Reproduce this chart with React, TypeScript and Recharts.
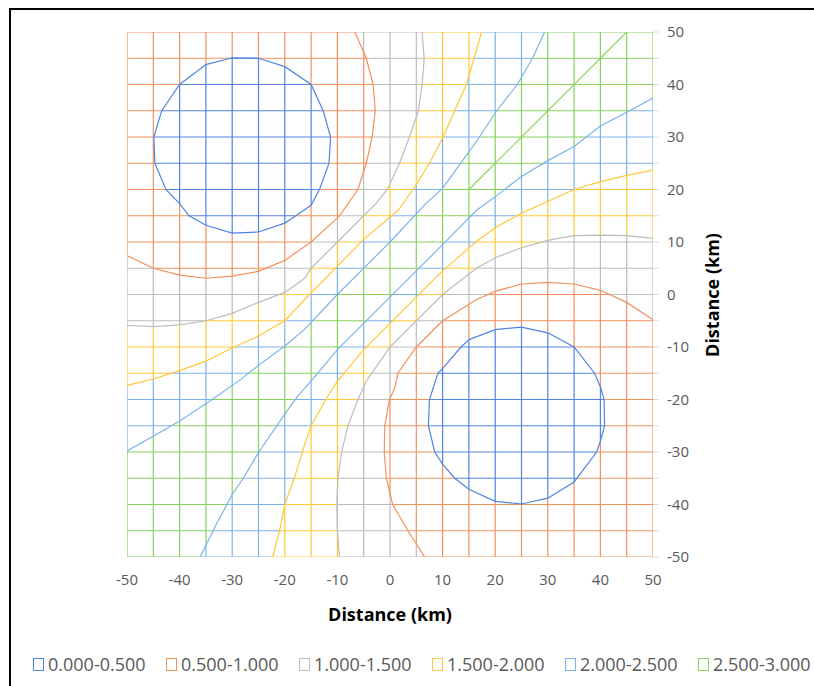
import React from 'react';
import { ComposedChart, Line, XAxis, YAxis } from 'recharts';

type Pt = [number, number];

const BAND_LABELS = ['0.000-0.500', '0.500-1.000', '1.000-1.500', '1.500-2.000', '2.000-2.500', '2.500-3.000'];
const BAND_COLORS = ['#5084E4', '#F2925C', '#BDBDBD', '#FFC73A', '#7DB3E9', '#88D25C'];

const GRID_STEPS = [-50, -45, -40, -35, -30, -25, -20, -15, -10, -5, 0, 5, 10, 15, 20, 25, 30, 35, 40, 45, 50];
const X_TICKS = [-50, -40, -30, -20, -10, 0, 10, 20, 30, 40, 50];
const Y_TICKS = GRID_STEPS;

// contour lines, [x km, y km]
const low05A: Pt[] = [[-30, 45.1], [-25, 45.0], [-20, 43.4], [-15, 40.0], [-12.7, 35], [-11.3, 30], [-11.6, 25], [-13.4, 20], [-15, 17], [-17.9, 15], [-20, 13.6], [-25, 11.9], [-30, 11.7], [-35, 13.2], [-38.2, 15], [-40, 17.3], [-42.6, 20], [-44.7, 25], [-44.9, 30], [-43.4, 35], [-40, 40], [-35, 43.8], [-30, 45.1]];
const low05B: Pt[] = [[15, -8.6], [20, -6.7], [25, -6.2], [30, -7.3], [35, -10], [38.9, -15], [40, -17.6], [40.7, -20], [40.8, -25], [40, -27.9], [39.3, -30], [35, -35.7], [30, -38.8], [25, -39.9], [20, -39.4], [15, -37.1], [12.3, -35], [10, -32.3], [8.5, -30], [7.3, -25], [7.5, -20], [9.1, -15], [10, -14.1], [13.5, -10], [15, -8.6]];

// upper-left family: from top edge to left edge
const lvl10A: Pt[] = [[-6.7, 50], [-4.5, 45], [-3.2, 40], [-2.8, 35], [-3.4, 30], [-4.5, 25], [-6.1, 20], [-9.6, 15], [-10, 14.6], [-15, 10], [-20, 6.5], [-25, 4.4], [-30, 3.5], [-35, 3.1], [-40, 3.7], [-45, 5.0], [-50, 7.4]];
const lvl15A: Pt[] = [[6.1, 50], [6.5, 45], [6.1, 40], [5.4, 35], [3.7, 30], [1.8, 25], [-0.5, 20], [-2.6, 17.4], [-5, 15], [-10, 10], [-15, 5], [-16.2, 3.1], [-20, 0.4], [-25, -1.5], [-30, -3.6], [-35, -5], [-40, -5.8], [-45, -6.1], [-50, -5.9]];
const lvl20A: Pt[] = [[17.4, 50], [16, 45], [14.5, 40], [12.3, 35], [10.1, 30], [7.5, 25], [4.4, 20], [1.5, 16], [-5, 10.5], [-10, 5.4], [-15.3, 0], [-20, -5], [-25, -7.9], [-30, -10.2], [-35, -12.7], [-40, -14.5], [-45, -16.1], [-50, -17.3]];
const lvl25A: Pt[] = [[29.4, 50], [27.1, 45], [24.2, 40], [20.3, 35], [16.4, 29.1], [10, 20.2], [6.9, 17.4], [0, 10], [-10, 0], [-16.2, -6.6], [-20, -9.8], [-25, -13.5], [-28.8, -16.5], [-35, -20.8], [-40, -24.1], [-45, -27], [-50, -29.8]];

// lower-right family: from right edge to bottom edge
const lvl25B: Pt[] = [[50, 37.4], [45, 34.7], [40, 32.1], [35, 28.2], [30, 25.5], [25, 22.5], [20, 18.6], [16.4, 16], [10, 9.5], [0, -0.5], [-10, -10.5], [-15, -16.5], [-17.5, -19.3], [-20, -22.8], [-25, -30.1], [-27.9, -35], [-30, -38.1], [-31, -40], [-33, -43.7], [-36.1, -50]];
const lvl20B: Pt[] = [[50, 23.7], [45, 22.7], [40, 21.5], [35, 20], [30, 17.7], [25, 15.5], [20, 12.7], [16.4, 10.1], [10, 4.5], [0, -5.5], [-5, -10.5], [-10, -16.5], [-12.2, -20], [-15, -25], [-16.2, -28.5], [-18.2, -35], [-20, -40], [-21, -45], [-22.3, -50]];
const lvl15B: Pt[] = [[50, 10.7], [45, 11.2], [40, 11.3], [35, 11.2], [30, 10.3], [25, 8.9], [20, 7.0], [16.4, 5.0], [10, 0], [5, -5], [0, -10], [-4.5, -16.5], [-6.1, -20], [-8, -25], [-9.2, -30], [-9.9, -35], [-10.1, -40], [-10, -45], [-9.6, -50]];
const lvl10B: Pt[] = [[50, -4.8], [45, -1.5], [40, 0.8], [35, 2.0], [30, 2.3], [25, 2.0], [20, 0.6], [16.4, -1.0], [10, -5], [5, -10], [1.5, -15], [0.9, -17.8], [-0.1, -20], [-1, -25], [-1.1, -30], [-0.7, -35], [0.5, -40], [3.4, -45], [6.6, -50]];

// the 3.000 ridge in the upper right
const ridge30: Pt[] = [[15, 20], [45, 50]];

const contours: { pts: Pt[]; band: number }[] = [
  { pts: low05A, band: 0 }, { pts: low05B, band: 0 },
  { pts: lvl10A, band: 1 }, { pts: lvl10B, band: 1 },
  { pts: lvl15A, band: 2 }, { pts: lvl15B, band: 2 },
  { pts: lvl20A, band: 3 }, { pts: lvl20B, band: 3 },
  { pts: lvl25A, band: 4 }, { pts: lvl25B, band: 4 },
  { pts: ridge30, band: 5 },
];

const insidePoly = (px: number, py: number, poly: Pt[]) => {
  let inside = false;
  for (let i = 0, j = poly.length - 1; i < poly.length; j = i++) {
    const [xi, yi] = poly[i];
    const [xj, yj] = poly[j];
    if ((yi > py) !== (yj > py) && px < ((xj - xi) * (py - yi)) / (yj - yi) + xi) inside = !inside;
  }
  return inside;
};

const cornerTL = [lvl10A, lvl15A, lvl20A, lvl25A].map((c) => [...c, [-50, 50]] as Pt[]);
const cornerBR = [lvl10B, lvl15B, lvl20B, lvl25B].map((c) => [...c, [50, -50]] as Pt[]);

// which band a point of the plot falls in
const bandAt = (x: number, y: number) => {
  let b = 5;
  cornerTL.forEach((p) => { if (insidePoly(x, y, p)) b--; });
  cornerBR.forEach((p) => { if (insidePoly(x, y, p)) b--; });
  [low05A, low05B].forEach((p) => { if (insidePoly(x, y, p)) b--; });
  return b;
};

type Row = { x: number; y: number | null };

// split every grid line where a contour crosses it, colour each piece by its band
const buildGrid = () => {
  const out: Row[][] = BAND_COLORS.map(() => []);
  const clamp = (v: number) => Math.max(-49.98, Math.min(49.98, v));
  [true, false].forEach((vertical) => {
    GRID_STEPS.forEach((c) => {
      const cuts = [-50, 50];
      contours.forEach(({ pts }) => {
        for (let i = 0; i < pts.length - 1; i++) {
          const a1 = vertical ? pts[i][0] : pts[i][1];
          const a2 = vertical ? pts[i + 1][0] : pts[i + 1][1];
          const b1 = vertical ? pts[i][1] : pts[i][0];
          const b2 = vertical ? pts[i + 1][1] : pts[i + 1][0];
          if (a1 === a2) continue;
          if ((a1 - c) * (a2 - c) <= 0) cuts.push(b1 + ((c - a1) / (a2 - a1)) * (b2 - b1));
        }
      });
      cuts.sort((a, b) => a - b);
      let start = cuts[0];
      let cur = -1;
      const flush = (end: number) => {
        if (cur < 0) return;
        const rows = out[cur];
        if (vertical) rows.push({ x: c, y: start }, { x: c, y: end }, { x: c, y: null });
        else rows.push({ x: start, y: c }, { x: end, y: c }, { x: end, y: null });
      };
      for (let i = 0; i < cuts.length - 1; i++) {
        const lo = cuts[i];
        const hi = cuts[i + 1];
        if (hi - lo < 1e-6) continue;
        const mid = (lo + hi) / 2;
        const b = vertical ? bandAt(clamp(c), mid) : bandAt(mid, clamp(c));
        if (b !== cur) {
          flush(lo);
          start = lo;
          cur = b;
        }
      }
      flush(50);
    });
  });
  return out;
};

const gridRows = buildGrid();

const axisFont = { fontFamily: 'Open Sans', fontSize: 15, fill: '#595959' };

export default function App() {
  return (
    <div style={{ position: 'absolute', left: 0, top: 0, width: 814, height: 686, background: '#fff', fontFamily: 'Open Sans', overflow: 'hidden' }}>
      <div style={{ position: 'absolute', left: 9, top: 8, width: 820, height: 700, borderLeft: '2px solid #000', borderTop: '2px solid #000' }} />
      <ComposedChart width={814} height={600} margin={{ top: 32, left: 127, right: 111, bottom: 13 }}>
        <XAxis
          type="number"
          dataKey="x"
          domain={[-50, 50]}
          ticks={X_TICKS}
          interval={0}
          allowDataOverflow
          axisLine={false}
          tickLine={false}
          tickSize={6}
          tickMargin={11}
          height={30}
          tick={axisFont}
        />
        <YAxis
          type="number"
          orientation="right"
          domain={[-50, 50]}
          ticks={Y_TICKS}
          interval={0}
          allowDataOverflow
          axisLine={false}
          tickLine={{ stroke: '#D9D9D9' }}
          tickSize={6}
          tickMargin={8}
          width={50}
          tick={axisFont}
          tickFormatter={(v: number) => (v % 10 === 0 ? String(v) : '')}
        />
        {gridRows.map((rows, i) => (
          <Line
            key={`grid-${i}`}
            data={rows}
            dataKey="y"
            stroke={BAND_COLORS[i]}
            strokeWidth={1.2}
            dot={false}
            activeDot={false}
            isAnimationActive={false}
          />
        ))}
        {contours.map((c, i) => (
          <Line
            key={`contour-${i}`}
            data={c.pts.map(([x, y]) => ({ x, y }))}
            dataKey="y"
            stroke={BAND_COLORS[c.band]}
            strokeWidth={1.2}
            dot={false}
            activeDot={false}
            isAnimationActive={false}
          />
        ))}
      </ComposedChart>
      <div style={{ position: 'absolute', left: 390, top: 602, transform: 'translateX(-50%)', fontWeight: 700, fontSize: 18, color: '#000', whiteSpace: 'nowrap' }}>
        Distance (km)
      </div>
      <div style={{ position: 'absolute', left: 712, top: 295, transform: 'translate(-50%, -50%) rotate(-90deg)', fontWeight: 700, fontSize: 18, color: '#000', whiteSpace: 'nowrap' }}>
        Distance (km)
      </div>
      <div style={{ position: 'absolute', left: 33, top: 652, display: 'flex' }}>
        {BAND_LABELS.map((label, i) => (
          <div key={label} style={{ width: 133, display: 'flex', alignItems: 'center', fontSize: 18, color: '#595959' }}>
            <span style={{ width: 9, height: 11, border: `1px solid ${BAND_COLORS[i]}`, marginRight: 4, display: 'inline-block' }} />
            {label}
          </div>
        ))}
      </div>
    </div>
  );
}
